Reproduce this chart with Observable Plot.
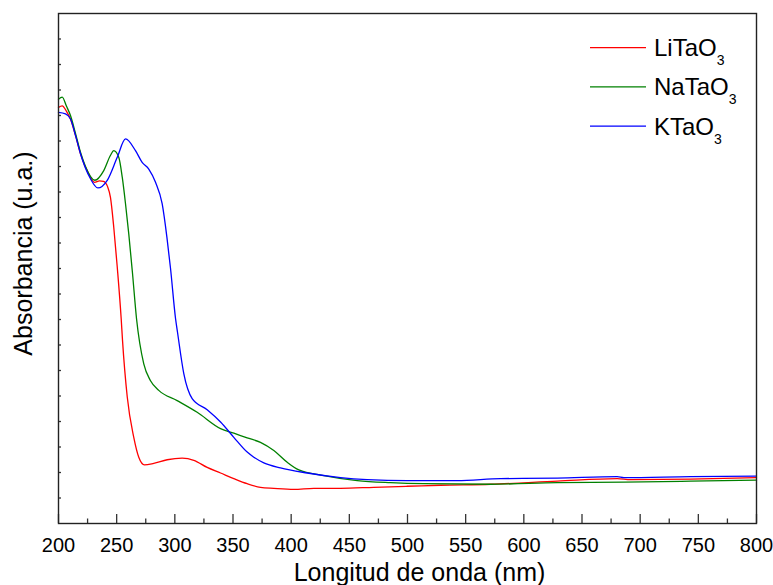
<!DOCTYPE html>
<html><head><meta charset="utf-8">
<script src="https://cdn.jsdelivr.net/npm/d3@7"></script>
<script src="https://cdn.jsdelivr.net/npm/@observablehq/plot@0.6"></script>
<style>body{margin:0;background:#fff;}</style>
</head><body><div id="chart"></div>
<script>
const seriesNames = ["LiTaO3", "NaTaO3", "KTaO3"];
const seriesBase = ["LiTaO", "NaTaO", "KTaO"];
const seriesColors = ["#ff0000", "#008000", "#0000ff"];

const wlLi = [200, 203.2, 206.9, 210.3, 214.6, 218.9, 225.8, 231.0, 235.2, 238.7, 242.1, 244.7, 247.5, 250.5, 253.9, 255.0, 259.1, 264.7, 269.0, 273.9, 281.9, 293.4, 306.3, 316.3, 327.8, 339.3, 350.7, 362.2, 373.6, 385.1, 402.3, 419.5, 442.4, 471.0, 499.7, 528.4, 571.4, 628.7, 680.3, 691.7, 743.3, 800];
const absLi = [0.816, 0.819, 0.808, 0.793, 0.761, 0.725, 0.686, 0.669, 0.672, 0.671, 0.661, 0.639, 0.581, 0.503, 0.401, 0.36, 0.248, 0.169, 0.130, 0.115, 0.118, 0.125, 0.128, 0.124, 0.110, 0.099, 0.088, 0.078, 0.071, 0.069, 0.067, 0.069, 0.069, 0.071, 0.073, 0.075, 0.077, 0.083, 0.088, 0.086, 0.087, 0.090];

const wlNa = [200, 203.2, 206.9, 210.3, 214.6, 218.9, 223.2, 231.2, 238.9, 244.7, 247.5, 251.8, 254.8, 257.6, 260.4, 263.4, 267.1, 273.3, 279.1, 286.2, 302.0, 319.2, 339.3, 350.7, 362.2, 373.6, 385.1, 396.6, 406.6, 428.1, 456.8, 485.4, 514.0, 571.4, 628.7, 686.0, 743.3, 800];
const absNa = [0.832, 0.836, 0.818, 0.800, 0.765, 0.728, 0.700, 0.673, 0.692, 0.722, 0.731, 0.718, 0.679, 0.627, 0.568, 0.496, 0.401, 0.313, 0.280, 0.261, 0.241, 0.218, 0.186, 0.177, 0.168, 0.159, 0.143, 0.120, 0.105, 0.094, 0.084, 0.080, 0.078, 0.077, 0.080, 0.081, 0.083, 0.085];

const wlK = [200, 206.0, 210.3, 214.6, 218.9, 227.5, 233.8, 241.9, 250.5, 257.6, 266.2, 271.9, 277.6, 283.4, 289.1, 293.2, 296.3, 300.6, 302.3, 307.7, 314.9, 327.8, 339.3, 350.7, 362.2, 367.9, 376.5, 390.8, 413.8, 442.4, 465.4, 499.7, 542.7, 580.0, 628.7, 680.3, 686.0, 743.3, 800];
const absK = [0.806, 0.803, 0.793, 0.761, 0.725, 0.676, 0.658, 0.673, 0.718, 0.754, 0.731, 0.708, 0.695, 0.669, 0.627, 0.561, 0.500, 0.402, 0.375, 0.294, 0.245, 0.223, 0.199, 0.169, 0.140, 0.130, 0.119, 0.109, 0.099, 0.090, 0.086, 0.084, 0.084, 0.088, 0.089, 0.092, 0.090, 0.092, 0.093];

const xMajorTicks = [200, 250, 300, 350, 400, 450, 500, 550, 600, 650, 700, 750, 800];
const xMinorTicks = [225, 275, 325, 375, 425, 475, 525, 575, 625, 675, 725, 775];
const yTicks = [0.05, 0.1, 0.15, 0.2, 0.25, 0.3, 0.35, 0.4, 0.45, 0.5, 0.55, 0.6, 0.65, 0.7, 0.75, 0.8, 0.85, 0.9, 0.95];

const allWl = [wlLi, wlNa, wlK];
const allAbs = [absLi, absNa, absK];
const rows = [];
seriesNames.forEach((s, i) => {
  allWl[i].forEach((w, j) => rows.push({series: s, wl: w, abs: allAbs[i][j]}));
});

const W = 773, H = 585, mL = 58, mR = 17, mT = 13, mB = 62;
const pxX = (W - mL - mR) / 600;   // px per nm
const pxY = (H - mT - mB);         // px per unit

const chart = Plot.plot({
  width: W, height: H,
  marginLeft: mL, marginRight: mR, marginTop: mT, marginBottom: mB,
  style: {fontFamily: "'Liberation Sans', Arial, sans-serif", fontSize: "20px", color: "#000", background: "#fff"},
  x: {domain: [200, 800], ticks: xMajorTicks, tickSize: 0, tickPadding: 14, label: null, tickFormat: d => String(d)},
  y: {domain: [0, 1], axis: null},
  color: {domain: seriesNames, range: seriesColors},
  marks: [
    Plot.line(rows, {x: "wl", y: "abs", z: "series", stroke: "series", strokeWidth: 1.3, curve: "monotone-x"}),
    Plot.ruleX(xMajorTicks, {x: d => d, y1: 0, y2: 9 / pxY, stroke: "#333", strokeWidth: 1.3}),
    Plot.ruleX(xMinorTicks, {x: d => d, y1: 0, y2: 4.5 / pxY, stroke: "#333", strokeWidth: 1.3}),
    Plot.ruleY(yTicks, {y: d => d, x1: 200, x2: 200 + 3 / pxX, stroke: "#333", strokeWidth: 1.3}),
    Plot.frame({stroke: "#222", strokeWidth: 1.4}),
    Plot.text(["Longitud de onda (nm)"], {frameAnchor: "bottom", dx: 12, dy: 57, lineAnchor: "bottom", textAnchor: "middle", fontSize: 25, fill: "#000"}),
    Plot.text(["Absorbancia (u.a.)"], {frameAnchor: "left", dx: -35, dy: -15, rotate: -90, lineAnchor: "middle", textAnchor: "middle", fontSize: 25, fill: "#000"})
  ]
});

document.getElementById("chart").appendChild(chart);

// Legend with subscripts
const svg = d3.select(chart);
const lg = svg.append("g").attr("font-family", "'Liberation Sans', Arial, sans-serif").attr("fill", "#000").attr("text-anchor", "start");
seriesNames.forEach((s, i) => {
  const y = 47.7 + i * 39.2;
  lg.append("line").attr("x1", 590).attr("x2", 646).attr("y1", y).attr("y2", y)
    .attr("stroke", seriesColors[i]).attr("stroke-width", 1.3);
  const t = lg.append("text").attr("x", 654).attr("y", y + 8.5).attr("font-size", 24).attr("text-anchor", "start");
  t.append("tspan").text(seriesBase[i]);
  t.append("tspan").attr("font-size", 14).attr("dy", 9).text("3");
});
</script>
</body></html>
